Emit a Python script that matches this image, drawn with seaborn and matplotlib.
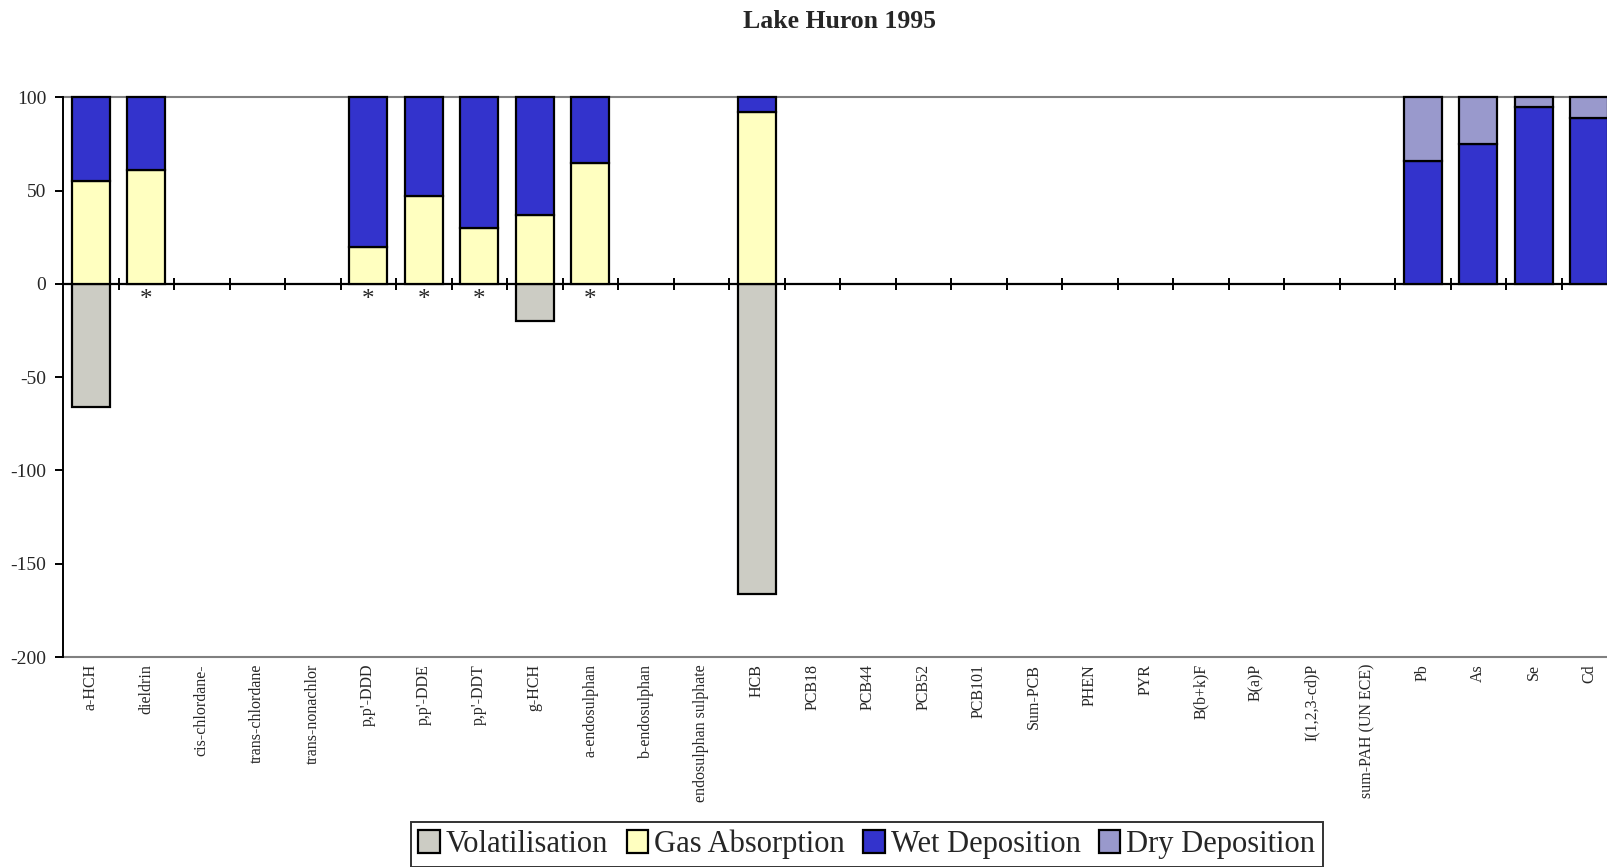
import numpy as np
import pandas as pd
import seaborn as sns
import matplotlib.pyplot as plt

# Categories and stacked flux shares (% of total)
categories = ['a-HCH', 'dieldrin', 'cis-chlordane-', 'trans-chlordane', 'trans-nonachlor',
              "p,p'-DDD", "p,p'-DDE", "p,p'-DDT", 'g-HCH', 'a-endosulphan',
              'b-endosulphan', 'endosulphan sulphate', 'HCB', 'PCB18', 'PCB44',
              'PCB52', 'PCB101', 'Sum-PCB', 'PHEN', 'PYR', 'B(b+k)F', 'B(a)P',
              'I(1,2,3-cd)P', 'sum-PAH (UN ECE)', 'Pb', 'As', 'Se', 'Cd']

volatilisation = [-66, 0, 0, 0, 0, 0, 0, 0, -20, 0, 0, 0, -166, 0,
                  0, 0, 0, 0, 0, 0, 0, 0, 0, 0, 0, 0, 0, 0]
gas_absorption = [55, 61, 0, 0, 0, 20, 47, 30, 37, 65, 0, 0, 92, 0,
                  0, 0, 0, 0, 0, 0, 0, 0, 0, 0, 0, 0, 0, 0]
wet_deposition = [45, 39, 0, 0, 0, 80, 53, 70, 63, 35, 0, 0, 8, 0,
                  0, 0, 0, 0, 0, 0, 0, 0, 0, 0, 66, 75, 95, 89]
dry_deposition = [0, 0, 0, 0, 0, 0, 0, 0, 0, 0, 0, 0, 0, 0,
                  0, 0, 0, 0, 0, 0, 0, 0, 0, 0, 34, 25, 5, 11]
flagged = ['dieldrin', "p,p'-DDD", "p,p'-DDE", "p,p'-DDT", 'a-endosulphan']

series_names = ['Volatilisation', 'Gas Absorption', 'Wet Deposition', 'Dry Deposition']
series_colors = ['#CCCCC4', '#FFFFC0', '#3333CC', '#9999CC']


def main():
    sns.set_theme(style='white')
    plt.rcParams['font.family'] = ['Liberation Serif', 'DejaVu Serif']
    plt.rcParams['axes.unicode_minus'] = False

    df = pd.DataFrame({
        'category': categories,
        'vol': volatilisation,
        'gas': gas_absorption,
        'wet': wet_deposition,
        'dry': dry_deposition,
    })
    bottoms = [np.zeros(len(df)),
               np.zeros(len(df)),
               df['gas'].to_numpy(float),
               (df['gas'] + df['wet']).to_numpy(float)]

    fig = plt.figure(figsize=(16.08, 8.67), dpi=100)
    ax = fig.add_axes([0.0392, 0.2422, 0.9664, 0.6456])

    for col, bottom, color in zip(['vol', 'gas', 'wet', 'dry'], bottoms, series_colors):
        sns.barplot(data=df, x='category', y=col, order=categories, ax=ax,
                    color=color, saturation=1, width=0.68, errorbar=None,
                    bottom=bottom, edgecolor='black', linewidth=1.6, clip_on=False)

    # empty segments should not leave an outline
    for bar in ax.patches:
        if bar.get_height() == 0:
            bar.set_visible(False)

    ax.set_xlim(-0.5, len(categories) - 0.5)
    ax.set_ylim(-200, 100)
    ax.set_yticks(np.arange(-200, 101, 50))
    ax.set_xlabel('')
    ax.set_ylabel('')

    # spines
    for side in ['top', 'bottom']:
        ax.spines[side].set_color('#808080')
        ax.spines[side].set_linewidth(1.5)
        ax.spines[side].set_zorder(0.5)
    ax.spines['right'].set_visible(False)
    ax.spines['left'].set_color('black')
    ax.spines['left'].set_linewidth(1.4)

    ax.tick_params(axis='y', direction='out', length=6, width=1.4, color='black',
                   labelsize=14, pad=6, left=True)
    ax.tick_params(axis='x', length=0, labelsize=11.5, pad=5, labelrotation=90)
    for lab in ax.get_xticklabels():
        lab.set_va('top')

    # zero line with category-boundary ticks
    frac = (0 - ax.get_ylim()[0]) / (ax.get_ylim()[1] - ax.get_ylim()[0])
    secax = ax.secondary_xaxis(frac)
    secax.set_xticks(np.arange(1, len(categories)) - 0.5)
    secax.tick_params(direction='inout', length=9, width=1.4, labeltop=False,
                      labelbottom=False, color='black')
    for sp in secax.spines.values():
        sp.set_color('black')
        sp.set_linewidth(1.6)

    # asterisks under flagged compounds
    for i, cat in enumerate(categories):
        if cat in flagged:
            ax.text(i, -2.5, '*', ha='center', va='top', fontsize=18)

    fig.text(840 / 1608, 1 - 21 / 867, 'Lake Huron 1995', ha='center', va='center',
             fontsize=18.5, fontweight='bold')

    # legend swatches: first visible bar of each series
    handles = [next(p for p in c.patches if p.get_visible()) for c in ax.containers[:4]]
    leg = fig.legend(handles, series_names, loc='upper center',
                     bbox_to_anchor=(867 / 1608, 1 - 822 / 867), ncol=4,
                     fontsize=22, frameon=True, fancybox=False, handlelength=0.7,
                     handleheight=0.8, handletextpad=0.2, columnspacing=0.6,
                     borderpad=0.25, borderaxespad=0)
    leg.get_frame().set_edgecolor('black')
    leg.get_frame().set_linewidth(1.4)

    fig.savefig('out.png', dpi=100)
    plt.close(fig)


if __name__ == '__main__':
    main()
